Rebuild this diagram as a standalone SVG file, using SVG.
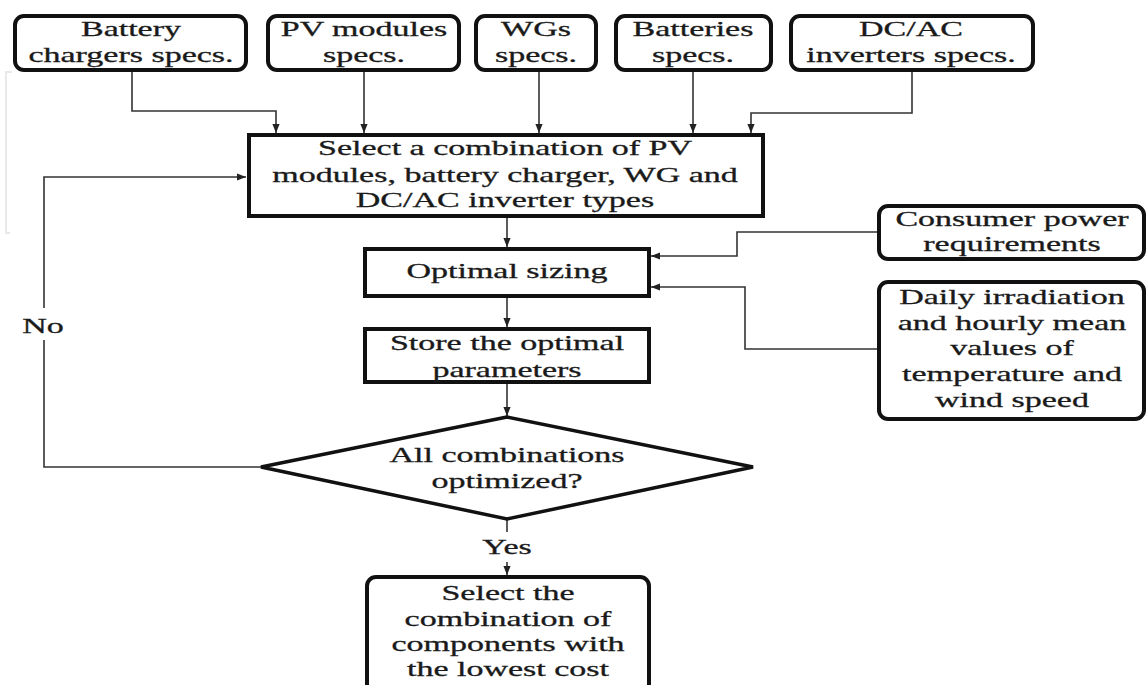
<svg xmlns="http://www.w3.org/2000/svg" width="1148" height="685" viewBox="0 0 1148 685">
<style>
  .box { fill: #fff; stroke: #111; stroke-width: 4; }
  .dia { fill: #fff; stroke: #111; stroke-width: 3.5; stroke-linejoin: miter; }
  .t { font-family: "Liberation Serif", "Times New Roman", serif; font-size: 21px; fill: #1a1a1a; stroke: #1a1a1a; stroke-width: 0.3; text-anchor: middle; }
  .c { fill: none; stroke: #333; stroke-width: 1.6; }
  .a { marker-end: url(#ah); }
</style>
<defs>
  <marker id="ah" viewBox="0 0 10 10" refX="10" refY="5" markerWidth="9" markerHeight="9" markerUnits="userSpaceOnUse" orient="auto">
    <path d="M0,1 L10,5 L0,9 z" fill="#222"/>
  </marker>
</defs>
<rect width="1148" height="685" fill="#fff"/>
<path d="M12,72 H6 V233 H10" fill="none" stroke="#e9e9e9" stroke-width="2"/>

<g id="connectors">
  <path class="c a" d="M132,72 V111 H276 V133"/>
  <path class="c a" d="M364,72 V133"/>
  <path class="c a" d="M539,72 V133"/>
  <path class="c a" d="M693,72 V133"/>
  <path class="c a" d="M912,72 V113 H751 V133"/>
  <path class="c a" d="M507,216 V247"/>
  <path class="c a" d="M507,297 V327"/>
  <path class="c a" d="M507,383 V416"/>
  <path class="c" d="M261,467 H44 V340"/>
  <path class="c a" d="M44,308 V177 H246"/>
  <path class="c" d="M507,519 V532"/>
  <path class="c a" d="M507,562 V575"/>
  <path class="c a" d="M877,232 H737 V256 H651"/>
  <path class="c a" d="M877,349 H745 V287 H651"/>
  <text class="t" transform="translate(43 333) scale(1.62 1)">No</text>
  <text class="t" transform="translate(507 554) scale(1.62 1)">Yes</text>
</g>

<g id="battery-chargers">
  <rect class="box" x="15" y="16" width="231" height="54" rx="9"/>
  <text class="t" transform="translate(131 0) scale(1.62 1)"><tspan x="0" y="36">Battery</tspan><tspan x="0" y="62">chargers specs.</tspan></text>
</g>
<g id="pv-modules">
  <rect class="box" x="268" y="16" width="191" height="54" rx="9"/>
  <text class="t" transform="translate(364 0) scale(1.62 1)"><tspan x="0" y="36">PV modules</tspan><tspan x="0" y="62">specs.</tspan></text>
</g>
<g id="wgs">
  <rect class="box" x="476" y="16" width="120" height="54" rx="9"/>
  <text class="t" transform="translate(536 0) scale(1.62 1)"><tspan x="0" y="36">WGs</tspan><tspan x="0" y="62">specs.</tspan></text>
</g>
<g id="batteries">
  <rect class="box" x="616" y="16" width="155" height="54" rx="9"/>
  <text class="t" transform="translate(693 0) scale(1.62 1)"><tspan x="0" y="36">Batteries</tspan><tspan x="0" y="62">specs.</tspan></text>
</g>
<g id="inverters">
  <rect class="box" x="791" y="16" width="242" height="54" rx="9"/>
  <text class="t" transform="translate(911 0) scale(1.62 1)"><tspan x="0" y="36">DC/AC</tspan><tspan x="0" y="62">inverters specs.</tspan></text>
</g>
<g id="select-combination">
  <rect class="box" x="249" y="135" width="514" height="81"/>
  <text class="t" transform="translate(505 0) scale(1.62 1)"><tspan x="0" y="155">Select a combination of PV</tspan><tspan x="0" y="182">modules, battery charger, WG and</tspan><tspan x="0" y="207">DC/AC inverter types</tspan></text>
</g>
<g id="optimal-sizing">
  <rect class="box" x="365" y="249" width="284" height="47"/>
  <text class="t" transform="translate(507 278) scale(1.62 1)">Optimal sizing</text>
</g>
<g id="store">
  <rect class="box" x="365" y="329" width="284" height="53"/>
  <text class="t" transform="translate(507 0) scale(1.62 1)"><tspan x="0" y="350">Store the optimal</tspan><tspan x="0" y="377">parameters</tspan></text>
</g>
<g id="decision">
  <polygon class="dia" points="507,417 261,467 507,519 753,467"/>
  <text class="t" transform="translate(507 0) scale(1.62 1)"><tspan x="0" y="462">All combinations</tspan><tspan x="0" y="488">optimized?</tspan></text>
</g>
<g id="consumer">
  <rect class="box" x="879" y="206" width="265" height="53" rx="9"/>
  <text class="t" transform="translate(1012 0) scale(1.62 1)"><tspan x="0" y="226">Consumer power</tspan><tspan x="0" y="251">requirements</tspan></text>
</g>
<g id="daily">
  <rect class="box" x="879" y="282" width="265" height="137" rx="9"/>
  <text class="t" transform="translate(1012 0) scale(1.62 1)"><tspan x="0" y="304">Daily irradiation</tspan><tspan x="0" y="330">and hourly mean</tspan><tspan x="0" y="355">values of</tspan><tspan x="0" y="381">temperature and</tspan><tspan x="0" y="407">wind speed</tspan></text>
</g>
<g id="final">
  <rect class="box" x="367" y="577" width="282" height="124" rx="9"/>
  <text class="t" transform="translate(508 0) scale(1.62 1)"><tspan x="0" y="600">Select the</tspan><tspan x="0" y="626">combination of</tspan><tspan x="0" y="651">components with</tspan><tspan x="0" y="676">the lowest cost</tspan></text>
</g>
</svg>
